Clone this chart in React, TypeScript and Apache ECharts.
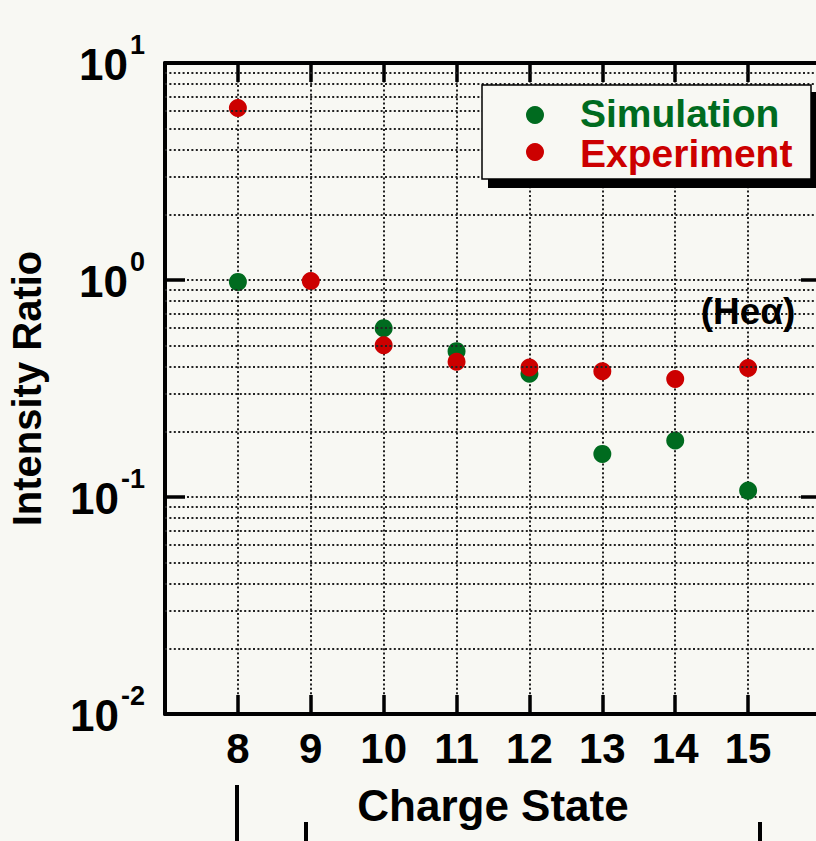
import React, { useEffect, useRef } from "react";
import * as echarts from "echarts";

const chargeStates = [8, 9, 10, 11, 12, 13, 14, 15];
const simulationStates = [8, 10, 11, 12, 13, 14, 15];
const simulationValues = [0.98, 0.6, 0.47, 0.37, 0.158, 0.182, 0.107];
const experimentStates = [8, 9, 10, 11, 12, 13, 14, 15];
const experimentValues = [6.2, 0.99, 0.5, 0.42, 0.395, 0.38, 0.35, 0.393];
const minorGridValues = [
  0.02, 0.03, 0.04, 0.05, 0.06, 0.07, 0.08, 0.09,
  0.2, 0.3, 0.4, 0.5, 0.6, 0.7, 0.8, 0.9,
  2, 3, 4, 5, 6, 7, 8, 9,
];
const yTickExponents: Record<string, string> = { "0.01": "-2", "0.1": "-1", "1": "0", "10": "1" };

const GREEN = "#006b1f";
const RED = "#cc0000";
const BG = "#f8f8f3";
const FONT = "'Liberation Sans', Arial, sans-serif";
const DOT: any = { type: [2, 2.4], width: 2, color: "#222" };

export default function App() {
  const ref = useRef<HTMLDivElement>(null);
  useEffect(() => {
    document.body.style.margin = "0";
    document.body.style.background = BG;
    const chart = echarts.init(ref.current!, null, { renderer: "svg" });
    const xBase = {
      type: "value",
      min: 7,
      max: 16,
      interval: 1,
      axisLine: { show: true, lineStyle: { color: "#000", width: 4 } },
      axisTick: { show: true, inside: true, length: 19, lineStyle: { color: "#000", width: 3.5 } },
    };
    const yBase = {
      type: "log",
      logBase: 10,
      min: 0.01,
      max: 10,
      axisLine: { show: true, lineStyle: { color: "#000", width: 4 } },
      axisTick: { show: true, inside: true, length: 20, lineStyle: { color: "#000", width: 3.5 } },
      minorTick: { show: false },
    };
    chart.setOption({
      animation: false,
      backgroundColor: BG,
      grid: { left: 165, top: 63, width: 656, height: 651, containLabel: false, outerBoundsMode: "none" },
      xAxis: [
        {
          ...xBase,
          position: "bottom",
          name: "Charge State",
          nameLocation: "middle",
          nameGap: 69,
          nameTextStyle: { fontFamily: FONT, fontWeight: "bold", fontSize: 44, color: "#000" },
          axisLabel: {
            show: true,
            margin: 13,
            fontFamily: FONT,
            fontWeight: "bold",
            fontSize: 42,
            color: "#000",
            formatter: (v: number) => (chargeStates.includes(v) ? String(v) : ""),
          },
          splitLine: { show: true, lineStyle: DOT },
        },
        {
          ...xBase,
          position: "top",
          axisLabel: { show: false },
          splitLine: { show: false },
        },
      ],
      yAxis: [
        {
          ...yBase,
          position: "left",
          name: "Intensity Ratio",
          nameLocation: "middle",
          nameGap: 118,
          nameTextStyle: { fontFamily: FONT, fontWeight: "bold", fontSize: 40, color: "#000" },
          axisLabel: {
            show: true,
            margin: 20,
            formatter: (v: number) => {
              const e = yTickExponents[String(v)];
              return e === undefined ? "" : `{b|10}{s|${e}}`;
            },
            rich: {
              b: { fontFamily: FONT, fontWeight: "bold", fontSize: 44, color: "#000", lineHeight: 46, verticalAlign: "bottom" },
              s: { fontFamily: FONT, fontWeight: "bold", fontSize: 27, color: "#000", lineHeight: 28, verticalAlign: "bottom", padding: [0, 0, 28, 2] },
            },
          },
          splitLine: { show: true, lineStyle: DOT },
        },
        {
          ...yBase,
          position: "right",
          axisLabel: { show: false },
          splitLine: { show: false },
        },
      ],
      series: [
        {
          name: "grid",
          type: "scatter",
          data: [],
          silent: true,
          markLine: {
            silent: true,
            symbol: ["none", "none"],
            label: { show: false },
            lineStyle: DOT,
            emphasis: { disabled: true },
            data: minorGridValues.map((v) => ({ yAxis: v })),
          },
        },
        {
          name: "Simulation",
          type: "scatter",
          symbol: "circle",
          symbolSize: 18,
          itemStyle: { color: GREEN, opacity: 1 },
          data: simulationStates.map((x, i) => [x, simulationValues[i]]),
          z: 3,
        },
        {
          name: "Experiment",
          type: "scatter",
          symbol: "circle",
          symbolSize: 18,
          itemStyle: { color: RED, opacity: 1 },
          data: experimentStates.map((x, i) => [x, experimentValues[i]]),
          z: 4,
        },
      ],
      graphic: [
        { type: "rect", z: 100, shape: { x: 488, y: 92, width: 330, height: 96 }, style: { fill: "#000" } },
        { type: "rect", z: 101, shape: { x: 482, y: 85, width: 329, height: 94 }, style: { fill: BG, stroke: "#000", lineWidth: 1.5 } },
        { type: "circle", z: 102, shape: { cx: 535, cy: 115, r: 9 }, style: { fill: GREEN } },
        { type: "circle", z: 102, shape: { cx: 535, cy: 152, r: 9 }, style: { fill: RED } },
        { type: "text", z: 102, x: 580, y: 113, style: { text: "Simulation", fill: GREEN, font: `bold 39px ${FONT}`, lineHeight: 34, verticalAlign: "middle", align: "left" } },
        { type: "text", z: 102, x: 580, y: 153, style: { text: "Experiment", fill: RED, font: `bold 39px ${FONT}`, lineHeight: 34, verticalAlign: "middle", align: "left" } },
        { type: "text", z: 102, x: 748, y: 311, style: { text: "(Heα)", fill: "#000", font: `bold 37px ${FONT}`, verticalAlign: "middle", align: "center" } },
        { type: "line", z: 102, shape: { x1: 237, y1: 785, x2: 237, y2: 841 }, style: { stroke: "#000", lineWidth: 4 } },
        { type: "line", z: 102, shape: { x1: 306, y1: 822, x2: 306, y2: 841 }, style: { stroke: "#000", lineWidth: 4 } },
        { type: "line", z: 102, shape: { x1: 760, y1: 822, x2: 760, y2: 841 }, style: { stroke: "#000", lineWidth: 4 } },
      ],
    });
    return () => chart.dispose();
  }, []);
  return <div ref={ref} style={{ width: 816, height: 841, background: BG }} />;
}
